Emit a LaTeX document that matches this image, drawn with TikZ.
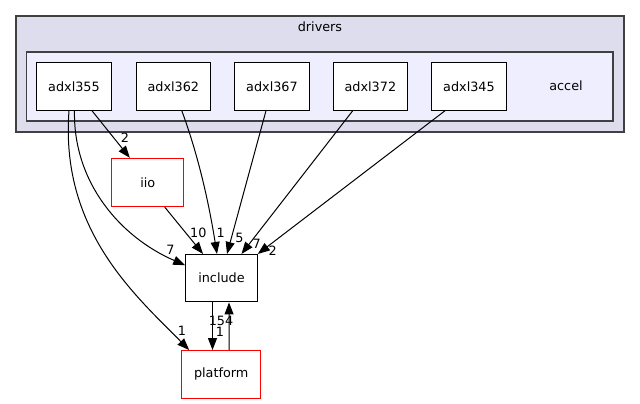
\documentclass[tikz,border=0pt]{standalone}
\usepackage{fontspec}
\setmainfont{DejaVu Sans}
\usetikzlibrary{arrows.meta}
\definecolor{outerfill}{HTML}{DDDDEE}
\definecolor{innerfill}{HTML}{EEEEFF}
\definecolor{frame}{HTML}{404040}

\begin{document}
\begin{tikzpicture}[x=1pt,y=-1pt,line width=1pt,>={Triangle[length=12pt,width=9pt]},
  every node/.style={font=\fontsize{12.8}{14}\selectfont},
  dirbox/.style={draw=black,fill=white,minimum width=74.5pt,minimum height=47.5pt,inner sep=0pt},
  extbox/.style={dirbox,draw=red},
  lbl/.style={inner sep=0pt}]
  \useasboundingbox (0,0) rectangle (640,404);
  % cluster drivers / accel
  \draw[frame,fill=outerfill,line width=1.3pt] (16,16) rectangle (624,132);
  \node (drivers) at (320,27) {drivers};
  \draw[frame,fill=innerfill,line width=1.3pt] (26.5,52) rectangle (613,121);
  \node (accel) at (566,86) {accel};
  % sub directories
  \node[dirbox] (adxl355) at (74,86.5) {adxl355};
  \node[dirbox] (adxl362) at (173.3,86.5) {adxl362};
  \node[dirbox] (adxl367) at (272,86.5) {adxl367};
  \node[dirbox] (adxl372) at (370.4,86.5) {adxl372};
  \node[dirbox] (adxl345) at (469,86.5) {adxl345};
  % outside directories
  \node[extbox,minimum width=72.3pt,minimum height=48.4pt] (iio) at (147.8,182.5) {iio};
  \node[dirbox,minimum width=71.6pt] (include) at (221.5,278.2) {include};
  \node[extbox,minimum width=79pt] (platform) at (221.2,374.3) {platform};
  % dependencies
  \draw[->] ([xshift=18pt]adxl355.south) -- ([xshift=-18pt]iio.north);
  \draw[->] ([xshift=0.5pt]adxl355.south) .. controls (73,182) and (120,237) .. ([yshift=13pt]include.west);
  \draw[->] ([xshift=-5pt]adxl355.south) .. controls (60,230) and (135,295) .. ([xshift=-32pt]platform.north);
  \draw[->] ([xshift=17pt]iio.south) -- ([xshift=-18.5pt]include.north);
  \draw[->] ([xshift=8.5pt]adxl362.south) .. controls (200,160) and (210,210) .. ([xshift=-4.5pt]include.north);
  \draw[->] ([xshift=-6pt]adxl367.south) -- ([xshift=5.5pt]include.north);
  \draw[->] ([xshift=-17.7pt]adxl372.south) -- ([xshift=20pt]include.north);
  \draw[->] ([xshift=-24pt]adxl345.south) -- (include.north east);
  \draw[->] ([xshift=-9pt]include.south) -- ([xshift=-8.7pt]platform.north);
  \draw[->] ([xshift=8pt]platform.north) -- ([xshift=7.5pt]include.south);
  % counts
  \node[lbl] (n355iio) at (125,138) {2};
  \node[lbl] (n355inc) at (170.5,249.5) {7};
  \node[lbl] (n355plat) at (182,331) {1};
  \node[lbl] (niioinc) at (198.3,233.3) {10};
  \node[lbl] (n362inc) at (220.7,233.3) {1};
  \node[lbl] (n367inc) at (239.5,237.7) {5};
  \node[lbl] (n372inc) at (256.7,243.5) {7};
  \node[lbl] (n345inc) at (272.7,250.7) {2};
  \node[lbl] (nincplat) at (220,331.5) {1};
  \node[lbl] (nplatinc) at (221,320.5) {154};
\end{tikzpicture}
\end{document}
